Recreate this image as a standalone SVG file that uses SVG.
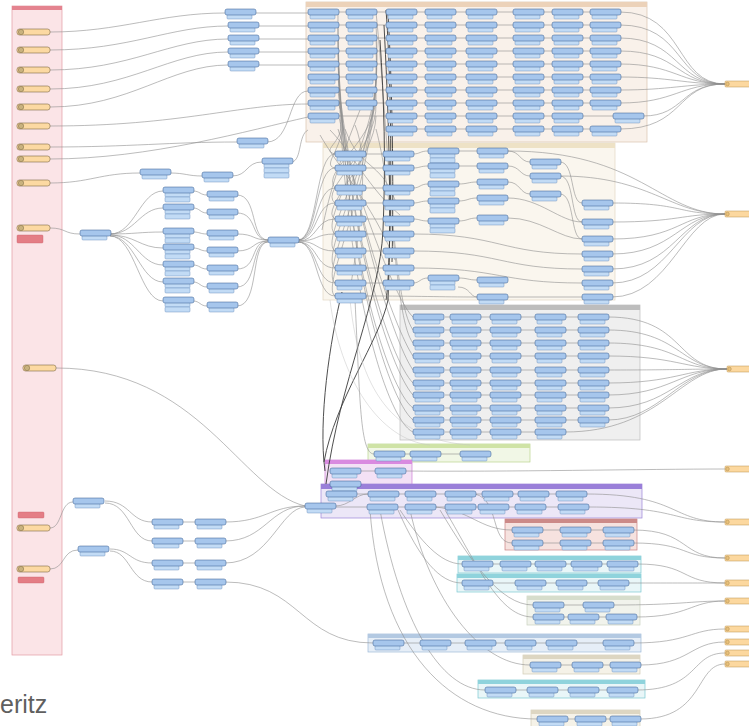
<svg xmlns="http://www.w3.org/2000/svg" xmlns:xlink="http://www.w3.org/1999/xlink" width="749" height="726" viewBox="0 0 749 726">
<style>
.c path{fill:none;stroke:#8e8e8e;stroke-width:.6}
.c .d{stroke:#3a3a3a;stroke-width:.9}
.c .l{stroke:#c4c4c4;stroke-width:.5}
.bx{stroke-width:.7}
</style>
<defs>
<g id="b"><rect x="2" y="5" width="25" height="5" rx="1" fill="#c2dbf5" stroke="#6a8cbc" stroke-width=".45"/><rect width="31" height="6" rx="2" fill="#a6c6ec" stroke="#3f6497" stroke-width=".55"/></g>
<g id="b2"><rect x="2" y="5" width="25" height="5" rx="1" fill="#c2dbf5" stroke="#6a8cbc" stroke-width=".45"/><rect x="2" y="10" width="25" height="5" rx="1" fill="#c2dbf5" stroke="#6a8cbc" stroke-width=".45"/><rect width="31" height="6" rx="2" fill="#a6c6ec" stroke="#3f6497" stroke-width=".55"/></g>
<g id="b3"><rect x="2" y="5" width="25" height="5" rx="1" fill="#c2dbf5" stroke="#6a8cbc" stroke-width=".45"/><rect x="2" y="10" width="25" height="5" rx="1" fill="#c2dbf5" stroke="#6a8cbc" stroke-width=".45"/><rect x="2" y="15" width="25" height="5" rx="1" fill="#c2dbf5" stroke="#6a8cbc" stroke-width=".45"/><rect width="31" height="6" rx="2" fill="#a6c6ec" stroke="#3f6497" stroke-width=".55"/></g>
<g id="o"><rect width="26" height="6" rx="1" fill="#fcd89f" stroke="#b8924e" stroke-width=".5"/><circle cx="2.5" cy="3" r="1.8" fill="#e8c07a" stroke="#9a7a40" stroke-width=".4"/></g>
<g id="r"><rect width="33" height="6" rx="2.5" fill="#fcd9a2" stroke="#7d6a45" stroke-width=".6"/><circle cx="4" cy="3" r="2.7" fill="#c9b27e" stroke="#7d6a45" stroke-width=".5"/></g>
</defs>
<rect width="749" height="726" fill="#ffffff"/>
<g id="containers">
<g id="grp-readers"><rect class="bx" x="12" y="6" width="50" height="649" fill="#fbe4e7" stroke="#e39aa3"/><rect x="12" y="6" width="50" height="4" fill="#e4838f"/></g>
<g id="grp-top"><rect class="bx" x="306" y="2" width="341" height="140" fill="#f9f1ea" stroke="#d9c3ae"/><rect x="306" y="2" width="341" height="5" fill="#ecd2b9"/></g>
<g id="grp-mid"><rect class="bx" x="323" y="143" width="292" height="157" fill="#faf6ee" stroke="#e2d8c2"/><rect x="323" y="143" width="292" height="5" fill="#eee2c6"/></g>
<g id="grp-gray"><rect class="bx" x="400" y="305" width="240" height="135" fill="#efefef" stroke="#bdbdbd"/><rect x="400" y="305" width="240" height="5" fill="#bdbdbd"/></g>
<g id="grp-green"><rect class="bx" x="368" y="444" width="162" height="18" fill="#f1f7e6" stroke="#b9d38e"/><rect x="368" y="444" width="162" height="4" fill="#cfe3a6"/></g>
<g id="grp-magenta"><rect class="bx" x="325" y="460" width="87" height="32" fill="#f3e1f5" stroke="#cf7fd8"/><rect x="325" y="460" width="87" height="4" fill="#d98ae0"/></g>
<g id="grp-purple"><rect class="bx" x="321" y="484" width="321" height="34" fill="#ece7f7" stroke="#9c84d6"/><rect x="321" y="484" width="321" height="5" fill="#9a7fd9"/></g>
<g id="grp-salmon"><rect class="bx" x="505" y="519" width="132" height="31" fill="#f6e2df" stroke="#c98080"/><rect x="505" y="519" width="132" height="4" fill="#cc8a88"/></g>
<g id="grp-cyan1"><rect class="bx" x="458" y="556" width="183" height="17" fill="#e9f6f8" stroke="#7cc8d2"/><rect x="458" y="556" width="183" height="4" fill="#8fd3dc"/></g>
<g id="grp-cyan2"><rect class="bx" x="457" y="574" width="184" height="18" fill="#e9f6f8" stroke="#7cc8d2"/><rect x="457" y="574" width="184" height="4" fill="#8fd3dc"/></g>
<g id="grp-sage"><rect class="bx" x="527" y="596" width="113" height="29" fill="#f1f3ec" stroke="#c9d2bf"/><rect x="527" y="596" width="113" height="4" fill="#d6ddcc"/></g>
<g id="grp-blue"><rect class="bx" x="368" y="634" width="273" height="18" fill="#e6eef7" stroke="#9fb9d7"/><rect x="368" y="634" width="273" height="4" fill="#b3c9e2"/></g>
<g id="grp-beige1"><rect class="bx" x="523" y="655" width="117" height="19" fill="#f5f2e8" stroke="#d2cbb5"/><rect x="523" y="655" width="117" height="4" fill="#ddd6c2"/></g>
<g id="grp-cyan3"><rect class="bx" x="478" y="680" width="167" height="18" fill="#e9f6f8" stroke="#7cc8d2"/><rect x="478" y="680" width="167" height="4" fill="#8fd3dc"/></g>
<g id="grp-beige2"><rect class="bx" x="531" y="710" width="109" height="17" fill="#f5f2e8" stroke="#d2cbb5"/><rect x="531" y="710" width="109" height="4" fill="#ddd6c2"/></g>
</g>
<g id="connectors" class="c">
<path d="M50 32C120 32 160 13 225 13"/>
<path d="M50 50C130 50 170 26 228 26"/>
<path d="M50 70C130 70 170 39 228 39"/>
<path d="M50 89C130 89 170 52 228 52"/>
<path d="M50 107C130 107 170 65 228 65"/>
<path d="M50 126C180 126 240 104 308 104"/>
<path d="M50 147C130 147 170 142 237 142"/>
<path d="M50 159C150 159 250 130 308 117"/>
<path d="M50 183C90 183 100 173 140 173"/>
<path d="M50 228C66 228 64 234 80 234"/>
<path d="M56 368C200 368 240 490 305 506"/>
<path d="M50 528C62 528 60 502 73 502"/>
<path d="M50 569C65 569 62 550 78 550"/>
<path d="M255 13H308M258 26H308M258 39H308M258 52H308M258 65H308"/>
<path d="M267 142C292 142 288 91 308 91"/>
<path d="M170 173C185 173 188 176 202 176M232 176C248 176 246 162 262 162M292 162C302 160 298 135 308 130"/>
<path d="M110 234C135 234 140 191 163 191M110 234C135 234 140 208 163 208M110 234C135 234 140 232 163 232M110 235C135 235 140 248 163 248M110 235C135 235 140 265 163 265M110 236C135 236 140 282 163 282M110 236C135 236 140 301 163 301"/>
<path d="M193 191C200 191 200 195 207 195M193 208C200 208 200 213 207 213M193 232C200 232 200 234 207 234M193 248C200 248 200 251 207 251M193 265C200 265 200 269 207 269M193 282C200 282 200 287 207 287M193 301C200 301 200 306 207 306"/>
<path d="M237 195C258 195 250 240 268 240M237 213C258 213 250 240 268 240M237 234C255 234 252 240 268 240M237 251C255 251 252 241 268 241M237 269C258 269 250 241 268 241M237 287C258 287 250 242 268 242M237 306C260 306 250 242 268 242"/>
<path d="M298 240C318 240 315 154 335 154M298 240C318 240 315 168 335 168M298 240C318 240 315 188 335 188M298 240C318 240 315 203 335 203M298 241C318 241 315 219 335 219M298 241C318 241 315 234 335 234M298 241C318 241 315 251 335 251M298 242C318 242 315 268 335 268M298 242C318 242 315 283 335 283M298 242C318 242 315 296 335 296"/>
<path d="M338 12H620M338 25H620M338 38H620M338 51H620M338 64H620M338 77H620M338 90H620M338 103H620M338 116H643M416 129H620"/>
<path d="M620 12C685 12 675 84 725 84M620 25C685 25 675 84 725 84M620 38C680 38 675 84 725 84M620 51C680 51 675 84 725 84M620 64C675 64 680 84 725 84M620 77C670 77 685 84 725 84M620 90C670 90 685 84 725 84M620 103C675 103 680 84 725 84M643 116C685 116 680 84 725 84M620 129C685 129 675 84 725 84"/>
<path d="M338 116C350 140 318 150 335 154M338 103C355 140 318 165 335 168M376 90C380 140 320 170 335 188M376 103C378 150 318 190 335 203M376 116C375 160 318 210 335 219M376 64C380 140 318 220 335 234M376 77C378 150 318 240 335 251M376 51C382 150 318 255 335 268M376 38C384 160 318 270 335 283M376 25C386 170 318 285 335 296"/>
<path d="M338 129C360 200 395 300 413 317M376 12C390 150 392 300 413 330M376 129C395 200 395 320 413 343M338 90C350 200 395 330 413 356M338 77C350 200 392 340 413 370M338 64C345 220 390 360 413 383M338 51C345 230 390 370 413 395M338 38C340 240 388 390 413 408M338 25C340 250 388 400 413 420M338 12C336 260 385 420 413 432"/>
<path d="M345 129C360 170 380 160 395 200M330 130C350 150 370 190 400 215M320 135C340 170 370 200 395 260M360 110C340 160 330 190 322 230M355 125C370 160 360 230 350 290"/>
<path class="d" d="M386 10C390 60 392 150 390 230C389 260 388 290 386 300"/>
<path class="d" d="M388 14C392 80 394 180 392 262"/>
<path class="d" d="M384 25C388 100 392 200 388 300C380 340 335 400 324 462"/>
<path class="d" d="M342 292C330 340 318 420 325 471"/>
<path class="d" d="M380 40C384 100 386 160 383 230C380 300 340 380 326 484"/>
<path d="M365 154H383M365 168H383M365 188H383M365 203H383M365 219H383M365 234H383M365 251H383M365 268H383M365 283H383"/>
<path d="M413 154C420 154 420 151 428 151M413 168C420 168 420 166 428 166M413 188C420 188 420 184 428 184M413 203C420 203 420 201 428 201M413 219C420 219 420 221 428 221M413 283C420 283 420 278 428 278"/>
<path d="M458 151H477M458 166H477M458 184C468 184 468 182 477 182M458 201C468 201 468 198 477 198M458 221C468 221 468 218 477 218M458 278C468 278 468 280 477 280M458 287C470 287 470 297 477 297"/>
<path d="M508 151C520 151 520 162 530 162M508 166C520 166 520 176 530 176M508 182C520 182 520 194 530 194"/>
<path d="M560 162C575 162 570 203 582 203M560 176C575 176 570 222 582 222M560 194C575 194 570 239 582 239M508 198C540 198 560 222 582 222M508 218C540 218 560 239 582 239"/>
<path d="M413 234C500 234 500 254 582 254M413 251C500 251 500 269 582 269M413 268C500 268 500 283 582 283M508 297H582M365 296C420 296 440 297 477 297"/>
<path d="M612 203C685 203 675 214 725 214M612 222C680 222 680 214 725 214M612 239C680 239 680 214 725 214M612 254C675 254 680 214 725 214M612 269C675 269 680 214 725 214M612 283C670 283 680 214 725 214M612 297C670 297 685 214 725 214M508 151C640 151 660 214 725 214M560 176C650 176 670 214 725 214"/>
<path d="M445 317H578M445 330H578M445 343H578M445 356H578M445 370H578M445 383H578M445 395H578M445 408H578M445 420H578M445 432H565"/>
<path d="M608 317C685 317 675 369 727 369M608 330C680 330 680 369 727 369M608 343C680 343 680 369 727 369M608 356C675 356 685 369 727 369M608 370C680 370 685 369 727 369M608 383C675 383 685 369 727 369M608 395C670 395 680 369 727 369M608 408C670 408 680 369 727 369M608 420C660 420 680 369 727 369M565 432C660 432 680 369 727 369"/>
<path class="l" d="M330 300C340 380 380 440 430 445M350 300C360 400 400 440 470 445"/>
<path d="M355 300C360 400 360 454 374 454M404 454H410M440 454H460"/>
<path d="M360 471H375M405 471C500 472 650 469 725 469"/>
<path d="M335 506C350 506 355 494 368 494M335 507H367M356 494H586M397 507H588"/>
<path d="M586 494C680 494 670 522 725 522M588 507C680 507 670 522 725 522"/>
<path d="M435 507C470 510 480 530 512 530M475 494C500 500 490 543 512 543M400 510C420 540 440 564 462 564M398 510C420 560 440 583 462 583M440 510C470 560 500 605 533 605M445 510C480 570 500 617 533 617M410 510C430 600 480 665 530 665M380 510C400 620 440 690 485 690M370 510C380 650 450 719 537 719"/>
<path d="M542 530H603M542 543H603M633 530C690 530 680 558 725 558M633 543C690 543 680 558 725 558"/>
<path d="M492 564H607M637 564C690 564 680 583 725 583M492 583H598M628 583C680 583 690 583 725 583"/>
<path d="M563 605H583M563 617H606M613 605C680 605 690 601 725 601M636 617C690 617 690 601 725 601"/>
<path d="M403 643H603M633 643C690 643 690 629 725 629"/>
<path d="M560 665H610M640 665C690 665 690 642 725 642"/>
<path d="M515 690H607M637 690C700 690 690 653 725 653"/>
<path d="M567 719H610M640 719C705 719 695 664 725 664"/>
<path d="M105 501C130 501 130 522 152 522M105 503C130 503 130 541 152 541M110 549C130 549 130 563 152 563M110 551C130 551 130 582 152 582"/>
<path d="M182 522H195M182 541H195M182 563H195M182 582H195"/>
<path d="M225 522C265 522 270 506 305 506M225 541C265 541 270 506 305 506M225 563C270 563 280 508 305 507M225 582C300 582 300 643 373 643"/>
</g>
<g id="nodes">
<use id="rd1" href="#r" x="17" y="29"/><use id="rd2" href="#r" x="17" y="47"/><use id="rd3" href="#r" x="17" y="67"/><use id="rd4" href="#r" x="17" y="86"/><use id="rd5" href="#r" x="17" y="104"/><use id="rd6" href="#r" x="17" y="123"/><use id="rd7" href="#r" x="17" y="144"/><use id="rd8" href="#r" x="17" y="156"/><use id="rd9" href="#r" x="17" y="180"/><use id="rd10" href="#r" x="17" y="225"/><use id="rd11" href="#r" x="23" y="365"/><use id="rd12" href="#r" x="17" y="525"/><use id="rd13" href="#r" x="17" y="566"/>
<rect id="an1" x="17" y="235" width="26" height="8" rx="1" fill="#e47d85" stroke="#c9606a" stroke-width=".4"/>
<rect id="an2" x="18" y="512" width="26" height="6" rx="1" fill="#e47d85" stroke="#c9606a" stroke-width=".4"/>
<rect id="an3" x="18" y="577" width="26" height="6" rx="1" fill="#e47d85" stroke="#c9606a" stroke-width=".4"/>
<use id="tl1" href="#b" x="225" y="9"/><use id="tl2" href="#b" x="228" y="22"/><use id="tl3" href="#b" x="228" y="35"/><use id="tl4" href="#b" x="228" y="48"/><use id="tl5" href="#b" x="228" y="61"/><use id="tl6" href="#b" x="237" y="138"/>
<use id="ch1" href="#b" x="140" y="169"/><use id="ch2" href="#b" x="202" y="172"/><use id="ch3" href="#b3" x="262" y="158"/>
<use id="lm0" href="#b" x="80" y="230"/>
<use id="la1" href="#b2" x="163" y="187"/><use id="la2" href="#b2" x="163" y="204"/><use id="la3" href="#b2" x="163" y="228"/><use id="la4" href="#b2" x="163" y="244"/><use id="la5" href="#b2" x="163" y="261"/><use id="la6" href="#b2" x="163" y="278"/><use id="la7" href="#b2" x="163" y="297"/>
<use id="lb1" href="#b" x="207" y="191"/><use id="lb2" href="#b" x="207" y="209"/><use id="lb3" href="#b" x="207" y="230"/><use id="lb4" href="#b" x="207" y="247"/><use id="lb5" href="#b" x="207" y="265"/><use id="lb6" href="#b" x="207" y="283"/><use id="lb7" href="#b" x="207" y="302"/>
<use id="lmg" href="#b" x="268" y="237"/>
<use id="bl1" href="#b" x="73" y="498"/><use id="bl2" href="#b" x="78" y="546"/>
<use id="bp1" href="#b" x="152" y="519"/><use id="bp2" href="#b" x="195" y="519"/><use id="bp3" href="#b" x="152" y="538"/><use id="bp4" href="#b" x="195" y="538"/><use id="bp5" href="#b" x="152" y="560"/><use id="bp6" href="#b" x="195" y="560"/><use id="bp7" href="#b" x="152" y="579"/><use id="bp8" href="#b" x="195" y="579"/>
<g id="top-nodes">
<use href="#b" x="308" y="9"/><use href="#b" x="308" y="22"/><use href="#b" x="308" y="35"/><use href="#b" x="308" y="48"/><use href="#b" x="308" y="61"/><use href="#b" x="308" y="74"/><use href="#b" x="308" y="87"/><use href="#b" x="308" y="100"/><use href="#b" x="308" y="113"/>
<use href="#b" x="346" y="9"/><use href="#b" x="346" y="22"/><use href="#b" x="346" y="35"/><use href="#b" x="346" y="48"/><use href="#b" x="346" y="61"/><use href="#b" x="346" y="74"/><use href="#b" x="346" y="87"/><use href="#b" x="346" y="100"/>
<use href="#b" x="386" y="9"/><use href="#b" x="386" y="22"/><use href="#b" x="386" y="35"/><use href="#b" x="386" y="48"/><use href="#b" x="386" y="61"/><use href="#b" x="386" y="74"/><use href="#b" x="386" y="87"/><use href="#b" x="386" y="100"/><use href="#b" x="386" y="113"/><use href="#b" x="386" y="126"/>
<use href="#b" x="425" y="9"/><use href="#b" x="425" y="22"/><use href="#b" x="425" y="35"/><use href="#b" x="425" y="48"/><use href="#b" x="425" y="61"/><use href="#b" x="425" y="74"/><use href="#b" x="425" y="87"/><use href="#b" x="425" y="100"/><use href="#b" x="425" y="113"/><use href="#b" x="425" y="126"/>
<use href="#b" x="466" y="9"/><use href="#b" x="466" y="22"/><use href="#b" x="466" y="35"/><use href="#b" x="466" y="48"/><use href="#b" x="466" y="61"/><use href="#b" x="466" y="74"/><use href="#b" x="466" y="87"/><use href="#b" x="466" y="100"/><use href="#b" x="466" y="113"/><use href="#b" x="466" y="126"/>
<use href="#b" x="513" y="9"/><use href="#b" x="513" y="22"/><use href="#b" x="513" y="35"/><use href="#b" x="513" y="48"/><use href="#b" x="513" y="61"/><use href="#b" x="513" y="74"/><use href="#b" x="513" y="87"/><use href="#b" x="513" y="100"/><use href="#b" x="513" y="113"/><use href="#b" x="513" y="126"/>
<use href="#b" x="552" y="9"/><use href="#b" x="552" y="22"/><use href="#b" x="552" y="35"/><use href="#b" x="552" y="48"/><use href="#b" x="552" y="61"/><use href="#b" x="552" y="74"/><use href="#b" x="552" y="87"/><use href="#b" x="552" y="100"/><use href="#b" x="552" y="113"/><use href="#b" x="552" y="126"/>
<use href="#b" x="590" y="9"/><use href="#b" x="590" y="22"/><use href="#b" x="590" y="35"/><use href="#b" x="590" y="48"/><use href="#b" x="590" y="61"/><use href="#b" x="590" y="74"/><use href="#b" x="590" y="87"/><use href="#b" x="590" y="100"/><use href="#b" x="613" y="113"/><use href="#b" x="590" y="126"/>
</g>
<g id="mid-nodes">
<use href="#b" x="335" y="151"/><use href="#b" x="335" y="165"/><use href="#b" x="335" y="185"/><use href="#b" x="335" y="200"/><use href="#b" x="335" y="216"/><use href="#b" x="335" y="231"/><use href="#b" x="335" y="248"/><use href="#b" x="335" y="265"/><use href="#b" x="335" y="280"/><use href="#b" x="335" y="293"/>
<use href="#b" x="383" y="151"/><use href="#b" x="383" y="165"/><use href="#b" x="383" y="185"/><use href="#b" x="383" y="200"/><use href="#b" x="383" y="216"/><use href="#b" x="383" y="231"/><use href="#b" x="383" y="248"/><use href="#b" x="383" y="265"/><use href="#b" x="383" y="280"/>
<use href="#b2" x="428" y="148"/><use href="#b2" x="428" y="163"/><use href="#b2" x="428" y="181"/><use href="#b2" x="428" y="198"/><use href="#b2" x="428" y="218"/><use href="#b2" x="428" y="275"/>
<use href="#b" x="477" y="148"/><use href="#b" x="477" y="163"/><use href="#b" x="477" y="179"/><use href="#b" x="477" y="195"/><use href="#b" x="477" y="215"/><use href="#b" x="477" y="277"/><use href="#b" x="477" y="294"/>
<use href="#b" x="530" y="159"/><use href="#b" x="530" y="173"/><use href="#b" x="530" y="191"/>
<use href="#b" x="582" y="200"/><use href="#b" x="582" y="219"/><use href="#b" x="582" y="236"/><use href="#b" x="582" y="251"/><use href="#b" x="582" y="266"/><use href="#b" x="582" y="280"/><use href="#b" x="582" y="294"/>
</g>
<g id="gray-nodes">
<use href="#b" x="413" y="314"/><use href="#b" x="413" y="327"/><use href="#b" x="413" y="340"/><use href="#b" x="413" y="353"/><use href="#b" x="413" y="367"/><use href="#b" x="413" y="380"/><use href="#b" x="413" y="392"/><use href="#b" x="413" y="405"/><use href="#b" x="413" y="417"/><use href="#b" x="413" y="429"/>
<use href="#b" x="450" y="314"/><use href="#b" x="450" y="327"/><use href="#b" x="450" y="340"/><use href="#b" x="450" y="353"/><use href="#b" x="450" y="367"/><use href="#b" x="450" y="380"/><use href="#b" x="450" y="392"/><use href="#b" x="450" y="405"/><use href="#b" x="450" y="417"/><use href="#b" x="450" y="429"/>
<use href="#b" x="490" y="314"/><use href="#b" x="490" y="327"/><use href="#b" x="490" y="340"/><use href="#b" x="490" y="353"/><use href="#b" x="490" y="367"/><use href="#b" x="490" y="380"/><use href="#b" x="490" y="392"/><use href="#b" x="490" y="405"/><use href="#b" x="490" y="417"/><use href="#b" x="490" y="429"/>
<use href="#b" x="535" y="314"/><use href="#b" x="535" y="327"/><use href="#b" x="535" y="340"/><use href="#b" x="535" y="353"/><use href="#b" x="535" y="367"/><use href="#b" x="535" y="380"/><use href="#b" x="535" y="392"/><use href="#b" x="535" y="405"/><use href="#b" x="535" y="417"/><use href="#b" x="535" y="429"/>
<use href="#b" x="578" y="314"/><use href="#b" x="578" y="327"/><use href="#b" x="578" y="340"/><use href="#b" x="578" y="353"/><use href="#b" x="578" y="367"/><use href="#b" x="578" y="380"/><use href="#b" x="578" y="392"/><use href="#b" x="578" y="405"/><use href="#b" x="578" y="417"/>
</g>
<g id="green-nodes"><use href="#b" x="374" y="451"/><use href="#b" x="410" y="451"/><use href="#b" x="460" y="451"/></g>
<g id="magenta-nodes"><use href="#b" x="330" y="468"/><use href="#b" x="375" y="468"/><use href="#b" x="330" y="481"/></g>
<g id="purple-nodes">
<use href="#b" x="305" y="503"/>
<use href="#b" x="326" y="491"/><use href="#b" x="368" y="491"/><use href="#b" x="405" y="491"/><use href="#b" x="445" y="491"/><use href="#b" x="482" y="491"/><use href="#b" x="518" y="491"/><use href="#b" x="556" y="491"/>
<use href="#b" x="367" y="504"/><use href="#b" x="405" y="504"/><use href="#b" x="445" y="504"/><use href="#b" x="478" y="504"/><use href="#b" x="515" y="504"/><use href="#b" x="558" y="504"/>
</g>
<g id="salmon-nodes"><use href="#b" x="512" y="527"/><use href="#b" x="560" y="527"/><use href="#b" x="603" y="527"/><use href="#b" x="512" y="540"/><use href="#b" x="560" y="540"/><use href="#b" x="603" y="540"/></g>
<g id="cyan1-nodes"><use href="#b" x="462" y="561"/><use href="#b" x="500" y="561"/><use href="#b" x="535" y="561"/><use href="#b" x="571" y="561"/><use href="#b" x="607" y="561"/></g>
<g id="cyan2-nodes"><use href="#b" x="462" y="580"/><use href="#b" x="515" y="580"/><use href="#b" x="556" y="580"/><use href="#b" x="598" y="580"/></g>
<g id="sage-nodes"><use href="#b" x="533" y="602"/><use href="#b" x="583" y="602"/><use href="#b" x="533" y="614"/><use href="#b" x="568" y="614"/><use href="#b" x="606" y="614"/></g>
<g id="blue-nodes"><use href="#b" x="373" y="640"/><use href="#b" x="420" y="640"/><use href="#b" x="465" y="640"/><use href="#b" x="505" y="640"/><use href="#b" x="546" y="640"/><use href="#b" x="603" y="640"/></g>
<g id="beige1-nodes"><use href="#b" x="530" y="662"/><use href="#b" x="572" y="662"/><use href="#b" x="610" y="662"/></g>
<g id="cyan3-nodes"><use href="#b" x="485" y="687"/><use href="#b" x="527" y="687"/><use href="#b" x="568" y="687"/><use href="#b" x="607" y="687"/></g>
<g id="beige2-nodes"><use href="#b" x="537" y="716"/><use href="#b" x="575" y="716"/><use href="#b" x="610" y="716"/></g>
<g id="outputs">
<use id="out1" href="#o" x="725" y="81"/><use id="out2" href="#o" x="725" y="211"/><use id="out3" href="#o" x="727" y="366"/><use id="out4" href="#o" x="725" y="466"/><use id="out5" href="#o" x="725" y="519"/><use id="out6" href="#o" x="725" y="555"/><use id="out7" href="#o" x="725" y="580"/><use id="out8" href="#o" x="725" y="598"/><use id="out9" href="#o" x="725" y="626"/><use id="out10" href="#o" x="725" y="639"/><use id="out11" href="#o" x="725" y="650"/><use id="out12" href="#o" x="725" y="661"/>
</g>
</g>
<text x="0" y="713" font-family="Liberation Sans, Arial, sans-serif" font-size="25" fill="#5f5f5f">eritz</text>
</svg>
